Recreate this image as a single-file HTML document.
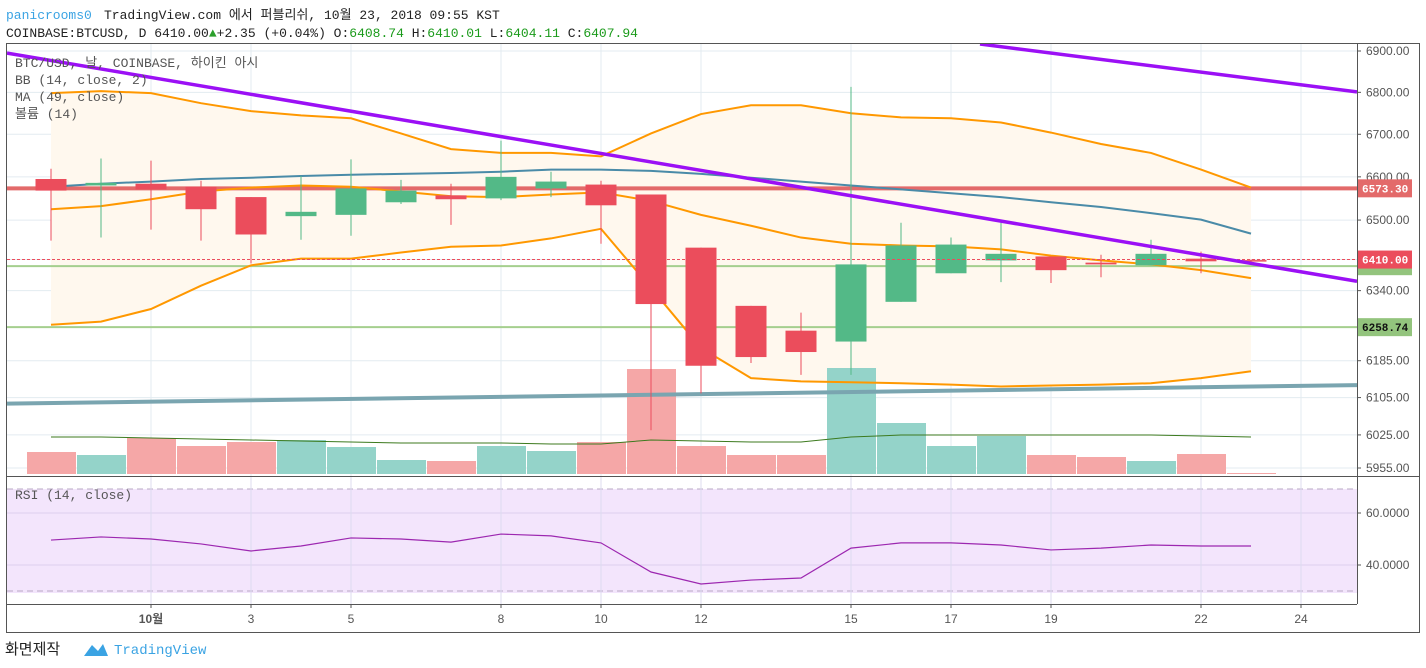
<!DOCTYPE html>
<html><head><meta charset="utf-8">
<style>
body{margin:0;background:#fff;width:1426px;height:668px;overflow:hidden;font-family:"Liberation Mono","Noto Sans CJK KR",monospace;}
svg{position:absolute;left:0;top:0}
text{font-family:"Liberation Mono","Noto Sans CJK KR",monospace}
.ax{font-family:"Liberation Sans","Noto Sans CJK KR",sans-serif;font-size:12px;fill:#555}
</style></head>
<body>
<svg id="c" width="1426" height="668" xmlns="http://www.w3.org/2000/svg">
<defs><clipPath id="pp"><rect x="7" y="44" width="1350" height="432"/></clipPath>
<clipPath id="rp"><rect x="7" y="477" width="1350" height="127"/></clipPath></defs>
<text x="6" y="19" font-size="13" fill="#3aa3e3">panicrooms0</text>
<text x="104" y="19" font-size="13" fill="#222">TradingView.com 에서 퍼블리쉬, 10월 23, 2018 09:55 KST</text>
<text x="6" y="37" font-size="13" fill="#222">COINBASE:BTCUSD, D 6410.00<tspan fill="#2ca02c">▲</tspan>+2.35 (+0.04%) O:<tspan fill="#1a9a1a">6408.74</tspan> H:<tspan fill="#1a9a1a">6410.01</tspan> L:<tspan fill="#1a9a1a">6404.11</tspan> C:<tspan fill="#1a9a1a">6407.94</tspan></text>
<g id="grid"></g>
<g id="price" clip-path="url(#pp)"></g>
<g id="rsi" clip-path="url(#rp)"></g>
<g id="axes"></g>
<rect x="6.5" y="43.5" width="1413" height="589" fill="none" stroke="#555"/>
<line x1="7" y1="476.5" x2="1419" y2="476.5" stroke="#555"/>
<line x1="7" y1="604.5" x2="1357" y2="604.5" stroke="#555"/>
<line x1="1357.5" y1="44" x2="1357.5" y2="604" stroke="#555"/>
<text x="15" y="67" font-size="13" fill="#555">BTC/USD, 날, COINBASE, 하이킨 아시</text>
<text x="15" y="84" font-size="13" fill="#555">BB (14, close, 2)</text>
<text x="15" y="101" font-size="13" fill="#555">MA (49, close)</text>
<text x="15" y="118" font-size="13" fill="#555">볼륨 (14)</text>
<text x="15" y="499" font-size="13" fill="#555">RSI (14, close)</text>
<text x="5" y="654" font-size="15" fill="#222">화면제작</text>
<g><path d="M84 656 L92 645 L98 651 L103 644 L108 656 Z" fill="#3aa3e3"/><text x="114" y="654" font-size="14" fill="#3aa3e3">TradingView</text></g>
</svg>
<script>
const dates=['9/29','9/30','10/1','10/2','10/3','10/4','10/5','10/6','10/7','10/8','10/9','10/10','10/11','10/12','10/13','10/14','10/15','10/16','10/17','10/18','10/19','10/20','10/21','10/22','10/23'];
const open=[6595,6580,6584,6577,6553,6509,6512,6541,6557,6550,6573,6582,6559,6437,6306,6251,6227,6315,6379,6408,6417,6403,6397,6412,6408.74];
const high=[6619,6643,6638,6591,6553,6602,6641,6593,6584,6685,6612,6591,6559,6437,6306,6291,6813,6494,6460,6494,6417,6421,6455,6428,6410.01];
const low=[6453,6460,6478,6453,6401,6455,6464,6537,6489,6546,6553,6446,6035,6114,6180,6154,6154,6315,6379,6359,6357,6370,6397,6379,6404.11];
const close=[6568,6586,6571,6525,6467,6519,6573,6568,6548,6600,6589,6534,6310,6174,6193,6204,6399,6442,6444,6423,6386,6399,6423,6406,6407.94];
const bbUpper=[6798,6803,6798,6774,6755,6745,6738,6702,6665,6656,6656,6648,6702,6748,6769,6769,6750,6740,6738,6728,6704,6677,6656,6617,6575];
const bbBasis=[6525,6532,6548,6566,6575,6580,6577,6566,6555,6553,6559,6564,6544,6512,6487,6460,6446,6442,6440,6433,6419,6408,6399,6386,6368];
const bbLower=[6264,6271,6299,6351,6397,6412,6412,6426,6439,6442,6458,6480,6346,6213,6147,6140,6138,6136,6133,6129,6131,6133,6136,6147,6162];
const ma49=[6577,6584,6589,6595,6598,6602,6605,6607,6609,6612,6617,6617,6614,6607,6598,6589,6580,6571,6562,6553,6541,6530,6516,6501,6469];
const volume=[22,19,36,28,32,34,27,14,13,28,23,32,105,28,19,19,106,51,28,38,19,17,13,20,1];
const volMA=[37,37,36,35,34,33,32,31,31,31,30,30,34,33,32,32,37,39,39,39,39,39,39,38,37];
const rsi=[49.6,50.8,50.0,48.1,45.4,47.3,50.4,50.0,48.8,51.9,51.2,48.5,37.3,32.7,34.2,35.0,46.5,48.5,48.5,47.7,45.8,46.5,47.7,47.3,47.3];
const priceTicks=[6900,6800,6700,6600,6500,6340,6185,6105,6025,5955];
const rsiTicks=[60,40];
const xTickIdx=[2,4,6,9,11,13,16,18,20,23,25];
const xTickLabels=['10월','3','5','8','10','12','15','17','19','22','24'];
const trendPurple1=[[-0.88,6895],[26.12,6361]];
const trendPurple2=[[18.58,6917],[26.12,6801]];
const trendGray=[[-0.88,6092],[26.12,6132]];
const levels=[6573.30,6395,6258.74];

const NS='http://www.w3.org/2000/svg';
const X=i=>51+50*i;
const P0=6900,P1=5955,Y0=51,Y1=468;
const Y=p=>Y0+(Math.log(P0/p)/Math.log(P0/P1))*(Y1-Y0);
const VY=v=>474-v;
const RY=v=>513+(60-v)*2.6;
function el(tag,a,parent){const e=document.createElementNS(NS,tag);for(const k in a)e.setAttribute(k,a[k]);parent.appendChild(e);return e;}
const grid=document.getElementById('grid'),pg=document.getElementById('price'),rg=document.getElementById('rsi'),ax=document.getElementById('axes');
priceTicks.forEach(p=>{const g=el('line',{x1:7,x2:1357,y1:Y(p),y2:Y(p),stroke:'#e3ebf0'},grid);

});
[6410].forEach(p=>el('line',{x1:7,x2:1357,y1:Y(p),y2:Y(p),stroke:'#e3ebf0'},grid));
rsiTicks.forEach(v=>el('line',{x1:7,x2:1357,y1:RY(v),y2:RY(v),stroke:'#e3ebf0'},grid));
xTickIdx.forEach(i=>{el('line',{x1:X(i),x2:X(i),y1:44,y2:604,stroke:'#e3ebf0'},grid);});
let fillPts=bbUpper.map((v,i)=>X(i)+','+Y(v)).concat(bbLower.map((v,i)=>X(i)+','+Y(v)).reverse());
const bf=el('polygon',{points:fillPts.join(' '),fill:'#fff8ee'},pg);


volume.forEach((v,i)=>{const up=close[i]>=open[i];const r=el('rect',{x:X(i)-24,y:VY(v),width:49,height:v,fill:up?'#94d3c9':'#f5a7a7'},pg);

});
const vm=el('polyline',{points:volMA.map((v,i)=>X(i)+','+VY(v)).join(' '),fill:'none',stroke:'#3c7a1e','stroke-width':1},pg);


const tg=el('line',{x1:X(trendGray[0][0]),y1:Y(trendGray[0][1]),x2:X(trendGray[1][0]),y2:Y(trendGray[1][1]),stroke:'#7aa5b0','stroke-width':4},pg);


const lv0=el('line',{x1:7,x2:1357,y1:Y(levels[0]),y2:Y(levels[0]),stroke:'#e36a6a','stroke-width':4},pg);


[levels[1],levels[2]].forEach(p=>{const l=el('line',{x1:7,x2:1357,y1:Y(p),y2:Y(p),stroke:'#a5cf8e','stroke-width':2},pg);

});
[[bbUpper,'bb-upper'],[bbBasis,'bb-basis'],[bbLower,'bb-lower']].forEach(([arr,n])=>{const l=el('polyline',{points:arr.map((v,i)=>X(i)+','+Y(v)).join(' '),fill:'none',stroke:'#ff9800','stroke-width':2},pg);

});
const ml=el('polyline',{points:ma49.map((v,i)=>X(i)+','+Y(v)).join(' '),fill:'none',stroke:'#4a8ba8','stroke-width':2},pg);


dates.forEach((d,i)=>{const up=close[i]>=open[i];const col=up?'#53b987':'#eb4d5c';
const g=el('g',{},pg);


el('line',{x1:X(i),x2:X(i),y1:Y(high[i]),y2:Y(low[i]),stroke:col,'stroke-width':1},g);
const t=Y(Math.max(open[i],close[i])),b=Y(Math.min(open[i],close[i]));
el('rect',{x:X(i)-15.5,y:t,width:31,height:Math.max(b-t,1.5),fill:col},g);});
const cp=el('line',{x1:7,x2:1357,y1:Y(6410),y2:Y(6410),stroke:'#eb4d5c','stroke-dasharray':'3,2','stroke-width':1},pg);


[[trendPurple1,'resistance-trendline'],[trendPurple2,'upper-trendline']].forEach(([t,n])=>{const l=el('line',{x1:X(t[0][0]),y1:Y(t[0][1]),x2:X(t[1][0]),y2:Y(t[1][1]),stroke:'#9b10f5','stroke-width':3.5},pg);

});
el('rect',{x:7,y:RY(70)+2,width:1350,height:RY(30)-RY(70),fill:'#f3e5fc'},rg);
[70,30].forEach(v=>el('line',{x1:7,x2:1357,y1:RY(v)+(v==70?2:0),y2:RY(v)+(v==70?2:0),stroke:'#b9a9c4','stroke-dasharray':'6,4'},rg));
rsiTicks.forEach(v=>el('line',{x1:7,x2:1357,y1:RY(v),y2:RY(v),stroke:'#dcd0ee'},rg));
xTickIdx.forEach(i=>el('line',{x1:X(i),x2:X(i),y1:477,y2:604,stroke:'#dcdbef'},rg));
const rl=el('polyline',{points:rsi.map((v,i)=>X(i)+','+RY(v)).join(' '),fill:'none',stroke:'#9c27b0','stroke-width':1.2},rg);


priceTicks.forEach(p=>{const y=Y(p);el('line',{x1:1357,x2:1361,y1:y,y2:y,stroke:'#555'},ax);
const t=el('text',{x:1366,y:y+4,class:'ax'},ax);t.textContent=p.toFixed(2);

});
rsiTicks.forEach(v=>{const y=RY(v);el('line',{x1:1357,x2:1361,y1:y,y2:y,stroke:'#555'},ax);
const t=el('text',{x:1366,y:y+4,class:'ax'},ax);t.textContent=v.toFixed(4);

});
function badge(p,txt,bg,fg,n){const y=Y(p);const g=el('g',{},ax);


el('rect',{x:1358,y:y-9,width:54,height:18,fill:bg},g);const t=el('text',{x:1362,y:y+4,'font-size':11,'font-weight':'bold','font-family':'Liberation Sans',fill:fg},g);t.textContent=txt;}
badge(6395,'',"#93c47d","#000",'support-level-badge');
badge(6573.30,'6573.30','#e36a6a','#fff','resistance-level-badge');
badge(6410,'6410.00','#eb4d5c','#fff','current-price-badge');
badge(6258.74,'6258.74','#93c47d','#111','support-level-label');
xTickIdx.forEach((i,k)=>{el('line',{x1:X(i),x2:X(i),y1:604,y2:608,stroke:'#555'},ax);
const t=el('text',{x:X(i),y:623,class:'ax','text-anchor':'middle','font-weight':k==0?'bold':'normal'},ax);t.textContent=xTickLabels[k];

});
</script>
</body></html>
